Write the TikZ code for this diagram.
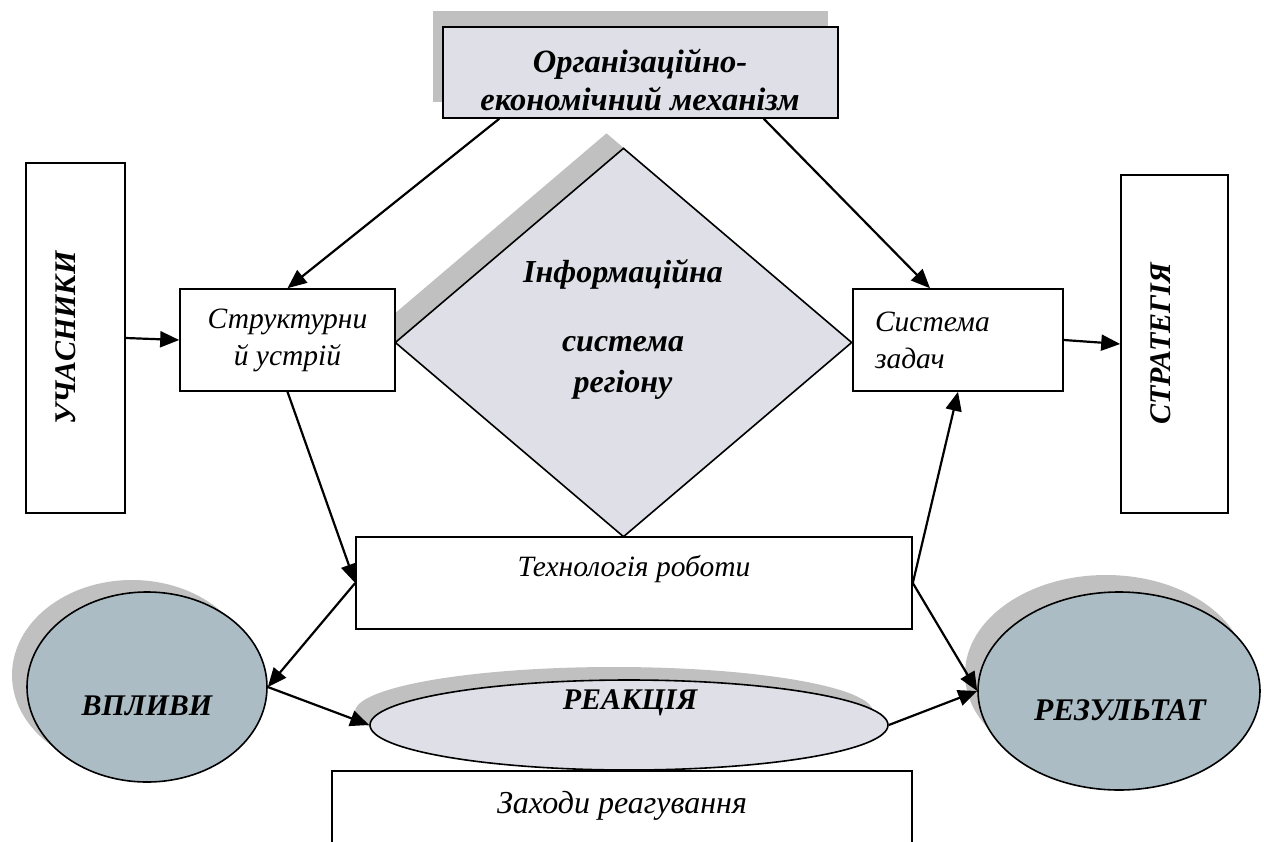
\documentclass[tikz,border=0pt]{standalone}
\usepackage{fontspec}
\setmainfont{Liberation Serif}
\usetikzlibrary{arrows.meta,shapes.geometric,shadows}
\definecolor{lilac}{HTML}{DEDFE7}
\definecolor{steel}{HTML}{ABBCC5}
\definecolor{shadowgray}{HTML}{C0C0C0}

\tikzset{
  box/.style={draw,line width=1.6pt,inner sep=0pt,fill=white},
  shadowed/.style 2 args={general shadow={fill=shadowgray,shadow xshift=#1,shadow yshift=#2}},
  bigtxt/.style={font=\fontsize{30}{38}\selectfont\bfseries\itshape,align=center,inner sep=0pt},
  smalltxt/.style={font=\fontsize{29.5}{37}\selectfont\itshape,inner sep=0pt}
}

\begin{document}
\begin{tikzpicture}[->,>={Triangle[length=19pt,width=16pt]},line width=2.2pt,x=1pt,y=-1pt]
  \useasboundingbox (0,0) rectangle (1264,841);

  % boxes
  \node[box,fill=lilac,shadowed={-10pt}{16pt},minimum width=395,minimum height=91] (org) at (640.5,72.5) {};
  \node[bigtxt,font=\fontsize{32.5}{38}\selectfont\bfseries\itshape] (orgtxt) at (640,80) {Організаційно-\\економічний механізм};
  \node[box,shape=diamond,fill=lilac,shadowed={-17pt}{15pt},minimum width=457,minimum height=389] (info) at (623.5,342.5) {};
  \node[bigtxt,font=\fontsize{32}{41}\selectfont\bfseries\itshape] (infotxt) at (623,329) {Інформаційна\\[28pt]система\\регіону};
  \node[box,minimum width=99,minimum height=350] (uch) at (75.5,338) {};
  \node[bigtxt,rotate=90] (uchtxt) at (66,338) {УЧАСНИКИ};
  \node[box,minimum width=107,minimum height=338] (strat) at (1174.5,344) {};
  \node[bigtxt,rotate=90] (strattxt) at (1161,344) {СТРАТЕГІЯ};
  \node[box,smalltxt,align=center,minimum width=215,minimum height=102] (struct) at (287.5,340) {Структурни\\й устрій};
  \node[box,smalltxt,align=left,text width=166,inner xsep=22pt,minimum width=210,minimum height=102] (sys) at (958,340) {Система\\задач};
  \node[box,minimum width=556,minimum height=92] (tech) at (634,583) {};
  \node[smalltxt] (techtxt) at (634,569) {Технологія роботи};
  \node[box,minimum width=580,minimum height=82] (zakh) at (622,812) {};
  \node[smalltxt,font=\fontsize{32}{37}\selectfont\itshape] (zakhtxt) at (622,806) {Заходи реагування};

  % ellipses
  \node[box,shape=ellipse,fill=steel,shadowed={-15pt}{12pt},minimum width=240,minimum height=190] (vpl) at (147,687) {};
  \node[bigtxt] (vpltxt) at (147,706) {ВПЛИВИ};
  \node[box,shape=ellipse,fill=lilac,shadowed={-15pt}{13pt},minimum width=518,minimum height=90] (reak) at (629,725) {};
  \node[bigtxt] (reaktxt) at (630,703) {РЕАКЦІЯ};
  \node[box,shape=ellipse,fill=steel,shadowed={-13pt}{17pt},minimum width=282,minimum height=198] (rez) at (1119,691) {};
  \node[bigtxt,font=\fontsize{31.5}{38}\selectfont\bfseries\itshape] (reztxt) at (1120,710) {РЕЗУЛЬТАТ};

  \path ([xshift=57pt]org.south west) edge (struct.north)
        ([xshift=-75pt]org.south east) edge ([xshift=-28pt]sys.north)
        (uch.east) edge (struct.west)
        (sys.east) edge (strat.west)
        (struct.south) edge (tech.west)
        (tech.west) edge (vpl.east)
        (vpl.east) edge (reak.west)
        (reak.east) edge (rez.west)
        (tech.east) edge (sys.south)
        (tech.east) edge (rez.west);
\end{tikzpicture}
\end{document}
